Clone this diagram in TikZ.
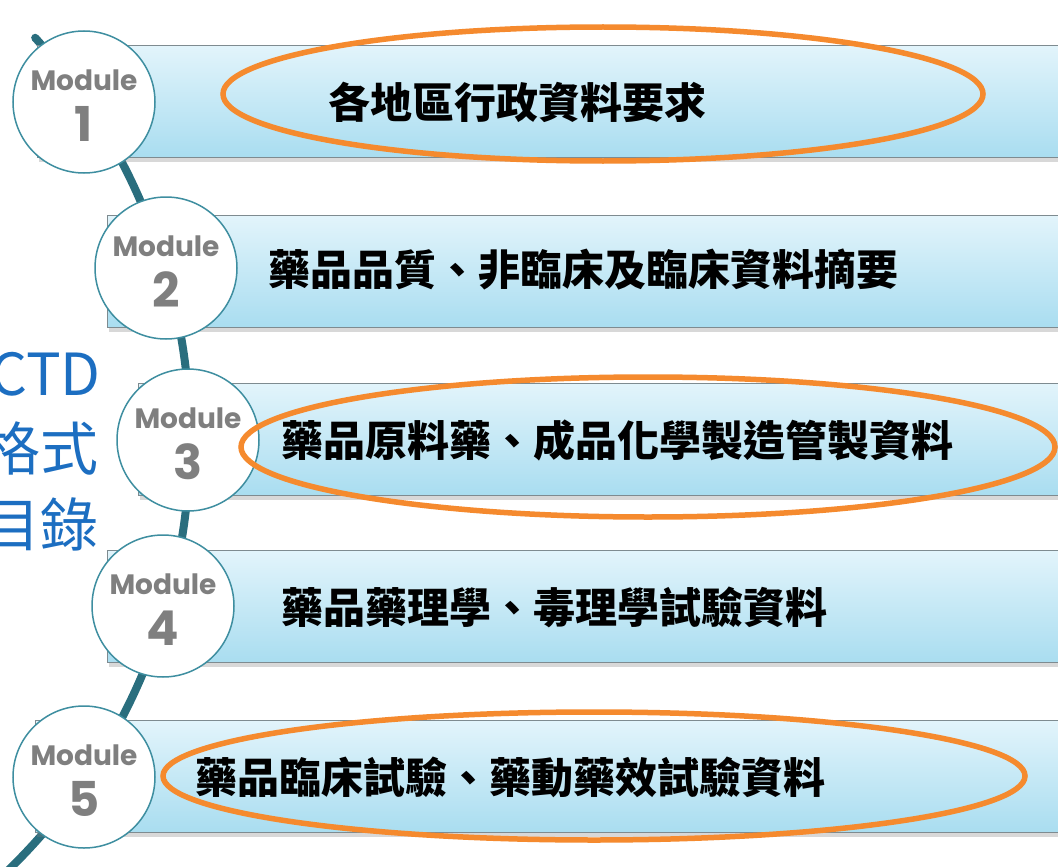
\documentclass[tikz,border=0pt]{standalone}
\usepackage{fontspec}
\newfontfamily\cjk{Noto Sans CJK TC}
\newfontfamily\modfont{Poppins}
\usetikzlibrary{shadows}
\definecolor{teal1}{HTML}{2A6E7E}
\definecolor{ring}{HTML}{3E8EA0}
\definecolor{bartop}{HTML}{E2F4FB}
\definecolor{barbot}{HTML}{A9DDF0}
\definecolor{barline}{HTML}{7E8B90}
\definecolor{orng}{HTML}{F58A2E}
\definecolor{modgray}{HTML}{7F7F7F}
\definecolor{ctdblue}{HTML}{1C6EC1}
\begin{document}
\begin{tikzpicture}[x=1pt,y=1pt,
 bar/.style={draw=barline, line width=1.2pt, top color=bartop, bottom color=barbot,
   minimum height=112pt, anchor=north west, inner sep=0pt,
   drop shadow={shadow xshift=1pt, shadow yshift=-4pt, opacity=0.3, fill=gray}},
 modcirc/.style={circle, draw=ring, line width=1.5pt, fill=white, minimum size=142pt, inner sep=0pt},
 modlabel/.style={inner sep=0pt, text=modgray, font=\modfont\bfseries\fontsize{28}{28}\selectfont},
 modnum/.style={inner sep=0pt, text=modgray, font=\modfont\bfseries\fontsize{48}{48}\selectfont},
 item/.style={anchor=west, inner sep=0pt, font=\cjk\bfseries\fontsize{42}{42}\selectfont},
 oval/.style={draw=orng, line width=5.5pt},
 side/.style={anchor=base east, inner sep=0pt, text=ctdblue, font=\cjk\fontsize{58}{58}\selectfont}]
\useasboundingbox (0,0) rectangle (1058,-867);
\clip (0,0) rectangle (1058,-867);
\fill[white] (0,0) rectangle (1058,-867);

% spine
\draw[teal1, line width=8pt, line cap=round] (-410,-440) ++(42.1:600) arc[start angle=42.1, end angle=-46, radius=600];

% bars
\node[bar, minimum width=1033pt] (b1) at (37,-45) {};
\node[bar, minimum width=963pt] (b2) at (107,-215) {};
\node[bar, minimum width=932pt] (b3) at (138,-383) {};
\node[bar, minimum width=963pt] (b4) at (107,-550) {};
\node[bar, minimum width=1035pt] (b5) at (35,-720) {};

% module circles
\node[modcirc] (m1) at (84,-102) {};
\node[modcirc] (m2) at (166,-268) {};
\node[modcirc] (m3) at (188,-440) {};
\node[modcirc] (m4) at (163,-606) {};
\node[modcirc] (m5) at (84,-777) {};
\foreach \i in {1,...,5}{
  \node[modlabel] (l\i) at ([yshift=22pt]m\i.center) {Module};
  \node[modnum] (n\i) at ([yshift=-22pt]m\i.center) {\i};
}

% items
\node[item] (t1) at (328,-102) {各地區行政資料要求};
\node[item] (t2) at (268,-270) {藥品品質、非臨床及臨床資料摘要};
\node[item] (t3) at (281,-440) {藥品原料藥、成品化學製造管製資料};
\node[item] (t4) at (281,-607) {藥品藥理學、毒理學試驗資料};
\node[item] (t5) at (195,-777) {藥品臨床試驗、藥動藥效試驗資料};

% side title
\node[side] (s1) at (101,-395) {CTD};
\node[side] (s2) at (99,-470) {格式};
\node[side] (s3) at (99,-546) {目錄};

% highlight ovals
\draw[oval] (603,-94) ellipse [x radius=380, y radius=67];
\draw[oval] (648,-447) ellipse [x radius=407, y radius=70];
\draw[oval] (594,-776) ellipse [x radius=431, y radius=64];
\end{tikzpicture}
\end{document}
